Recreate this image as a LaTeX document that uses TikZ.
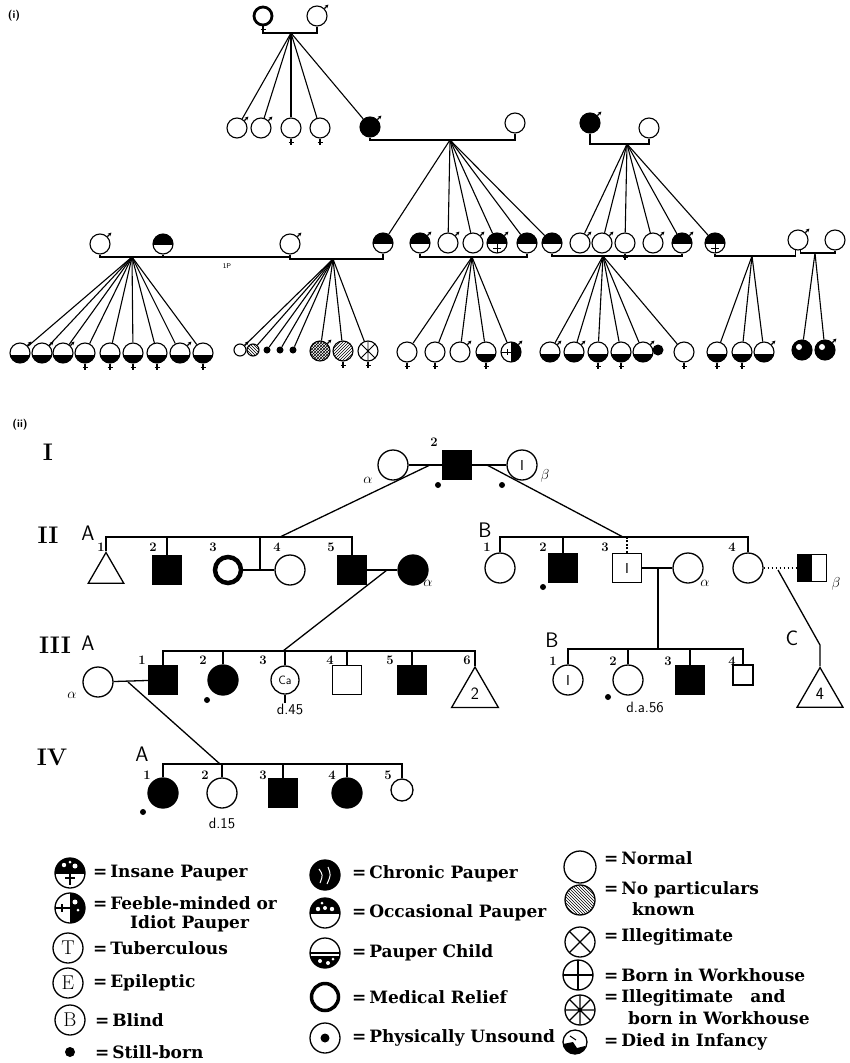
\documentclass[tikz,border=0pt]{standalone}
\usepackage{fontspec}
\usetikzlibrary{arrows.meta,shapes.geometric,patterns,calc}
\newfontfamily\legfont{DejaVu Serif}
\begin{document}
\begin{tikzpicture}[x=1pt,y=-1pt,
  ln/.style={line width=1.1pt},
  pl/.style={line width=1.3pt},
  pc/.style={circle,draw,line width=1.1pt,minimum size=20pt,inner sep=0pt},
  thk/.style={pc,line width=2.8pt,minimum size=18pt},
  chr/.style={pc,fill=black},
  occ/.style={pc,path picture={\fill ([yshift=-1pt]path picture bounding box.west) rectangle (path picture bounding box.north east);}},
  chd/.style={pc,path picture={\fill ([yshift=-2pt]path picture bounding box.west) rectangle (path picture bounding box.south east);}},
  ins/.style={pc,path picture={\fill ([yshift=-1pt]path picture bounding box.west) rectangle (path picture bounding box.north east);
     \draw[line width=0.9pt] ($(path picture bounding box.center)+(-4,5)$) -- ++(8,0) ($(path picture bounding box.center)+(0,1)$) -- ++(0,9);}},
  fbl/.style={pc,path picture={\fill (path picture bounding box.north) rectangle (path picture bounding box.south east);
     \draw[line width=0.9pt] (path picture bounding box.west) -- (path picture bounding box.center) ($(path picture bounding box.center)+(-4,-3)$) -- ++(0,6);}},
  spot/.style={pc,fill=black,path picture={\fill[white] ($(path picture bounding box.center)+(-3,-3)$) circle[radius=3];}},
  sb/.style={circle,fill=black,minimum size=7pt,inner sep=0pt},
  pf/.style={circle,draw,line width=1.3pt,minimum size=30pt,inner sep=0pt,font=\sffamily\Large},
  pm/.style={rectangle,draw,line width=1.3pt,minimum size=29pt,inner sep=0pt,font=\sffamily\Large},
  tri/.style={regular polygon,regular polygon sides=3,draw,line width=1.3pt,inner sep=0pt,font=\sffamily\LARGE},
  num/.style={font=\bfseries\fontsize{13}{13}\selectfont,inner sep=0pt},
  rom/.style={font=\fontsize{24}{24}\selectfont\bfseries,inner sep=0pt},
  grp/.style={font=\sffamily\fontsize{21}{21}\selectfont,inner sep=0pt},
  gk/.style={font=\Large,inner sep=0pt},
  dt/.style={circle,fill=black,minimum size=6pt,inner sep=0pt},
  dd/.style={font=\sffamily\fontsize{15}{15}\selectfont,inner sep=0pt},
  lg/.style={circle,draw,line width=1.3pt,minimum size=30pt,inner sep=0pt,font=\fontsize{20}{20}\selectfont},
  lt/.style={anchor=west,inner sep=0pt,font=\legfont\bfseries\fontsize{17}{17}\selectfont},
  mk/.style={line width=1.1pt,-{Stealth[length=3.5pt,width=3.5pt]}},
  tl/.style={font=\sffamily\bfseries\fontsize{11}{11}\selectfont,inner sep=0pt},
]
\fill[white] (0,0) rectangle (849,1063);
\useasboundingbox (0,0) rectangle (849,1063);

% ================= (i) =================
\node[tl] (lab1) at (14,16) {(i)};
\node[thk] (t1) at (263,16) {};
\node[pc] (t2) at (317,16) {};
\coordinate (j1) at (291,33);
\draw[ln] (t1.south) |- (j1) -| (t2.south);
\node[pc] (c1) at (237,128) {};
\node[pc] (c2) at (261,128) {};
\node[pc] (c3) at (291,128) {};
\node[pc] (c4) at (320,128) {};
\node[chr] (c5) at (370,127) {};
\foreach \c in {c1,c2,c3,c4,c5} \draw[ln] (j1) -- (\c);
\node[pc] (s1) at (515,123) {};
\coordinate (j2) at (450,140);
\draw[ln] (c5.south) |- (j2) -| (s1.south);
\node[chr] (p1) at (590,123) {};
\node[pc] (p2) at (649,128) {};
\coordinate (j3) at (627,144);
\draw[ln] (p1.south) |- (j3) -| (p2.south);

% row 3
\node[pc]  (r1) at (100,244) {};
\node[occ] (r2) at (163,244) {};
\node[pc]  (r3) at (290,244) {};
\node[occ] (r4) at (383,243) {};
\node[occ] (r5) at (420,243) {};
\node[pc]  (r6) at (448,243) {};
\node[pc]  (r7) at (473,243) {};
\node[ins] (r8) at (497,243) {};
\node[occ] (r9) at (527,243) {};
\node[occ] (r10) at (552,243) {};
\node[pc]  (r11) at (580,243) {};
\node[pc]  (r12) at (602,243) {};
\node[pc]  (r13) at (625,243) {};
\node[pc]  (r14) at (653,243) {};
\node[occ] (r15) at (682,243) {};
\node[ins] (r16) at (715,243) {};
\node[pc]  (r17) at (798,240) {};
\node[pc]  (r18) at (835,240) {};
\foreach \c in {r4,r6,r7,r8,r9,r10} \draw[ln] (j2) -- (\c);
\foreach \i in {11,...,16} \draw[ln] (j3) -- (r\i);

\coordinate (j4) at (132,257);
\coordinate (q1) at (227,257);
\coordinate (j5) at (333,259);
\coordinate (j6) at (472,257);
\coordinate (j7) at (603,256);
\coordinate (j8) at (752,256);
\coordinate (j9) at (815,253);
\draw[ln] (r1.south) |- (j4) -| (r2.south);
\draw[ln] (r2.south) |- (q1) -| (r3.south);
\node[font=\sffamily\scriptsize,inner sep=0pt] (lp) at (227,266) {1P};
\draw[ln] (r3.south) |- (j5) -| (r4.south);
\draw[ln] (r5.south) |- (j6) -| (r9.south);
\draw[ln] (r10.south) |- (j7) -| (r15.south);
\draw[ln] (r16.south) |- (j8) -| (r17.255);
\draw[ln] (r17.285) |- (j9) -| (r18.south);

% row 4
\foreach \x [count=\i] in {20,42,63,85,110,133,157,180,203}
  \node[chd] (g\i) at (\x,353) {};
\foreach \i in {1,...,9} \draw[ln] (j4) -- (g\i);

\node[pc,minimum size=12pt] (h1) at (240,350) {};
\node[pc,minimum size=12pt,pattern=north west lines] (h2) at (253,350) {};
\node[sb] (h3) at (267,350) {};
\node[sb] (h4) at (280,350) {};
\node[sb] (h5) at (293,350) {};
\node[pc,pattern=crosshatch] (h6) at (320,351) {};
\node[pc,pattern=north east lines] (h7) at (343,351) {};
\node[pc,path picture={\draw[line width=0.8pt] (path picture bounding box.north west)--(path picture bounding box.south east) (path picture bounding box.north east)--(path picture bounding box.south west) (path picture bounding box.north)--(path picture bounding box.south);}] (h8) at (368,351) {};
\foreach \i in {1,...,8} \draw[ln] (j5) -- (h\i);

\node[pc]  (k1) at (407,352) {};
\node[pc]  (k2) at (435,352) {};
\node[pc]  (k3) at (460,352) {};
\node[chd] (k4) at (486,352) {};
\node[fbl] (k5) at (511,352) {};
\foreach \i in {1,...,5} \draw[ln] (j6) -- (k\i);

\node[chd] (m1) at (550,352) {};
\node[chd] (m2) at (574,352) {};
\node[chd] (m3) at (598,352) {};
\node[chd] (m4) at (621,352) {};
\node[chd] (m5) at (643,352) {};
\node[circle,fill=black,minimum size=11pt,inner sep=0pt] (m6) at (658,350) {};
\node[pc]  (m7) at (684,352) {};
\foreach \i in {1,2,3,4,5,7} \draw[ln] (j7) -- (m\i);

\node[chd] (n1) at (717,352) {};
\node[chd] (n2) at (742,352) {};
\node[chd] (n3) at (764,352) {};
\foreach \i in {1,2,3} \draw[ln] (j8) -- (n\i);
\node[spot] (o1) at (802,350) {};
\node[spot] (o2) at (825,350) {};
\foreach \i in {1,2} \draw[ln] (j9) -- (o\i);

% sex markers
\foreach \n in {t2,c1,c2,c5,p1,r1,r3,r5,r6,r7,r8,r11,r12,r14,r15,r17,g1,g2,g3,g8,h1,h6,k3,k5,m1,m2,m5,n3,o2}
  \draw[mk] (\n.north east) -- ++(4,-4);
\foreach \n in {t1,c3,c4,r13,g4,g5,g6,g7,g9,h7,h8,k1,k2,k4,m3,m4,m7,n1,n2}
  \draw[ln] (\n.south) -- ++(0,6) ++(-2.5,-2.5) -- ++(5,0);

% ================= (ii) =================
\node[tl] (lab2) at (20,425) {(ii)};
\node[rom] (gI) at (48,452) {I};
\node[rom] (gII) at (48,535) {II};
\node[rom] (gIII) at (55,645) {III};
\node[rom] (gIV) at (52,757) {IV};

% generation I
\node[pf] (Ia) at (393,465) {};
\node[pm,fill=black] (I2) at (457,465) {};
\node[pf] (Ib) at (522,465) {I};
\node[gk] (al1) at (368,480) {$\alpha$};
\node[gk] (be1) at (545,476) {$\beta$};
\node[num] (nI2) at (434,442) {2};
\node[dt] (dI1) at (438,485) {};
\node[dt] (dI2) at (502,485) {};
\draw[pl] (Ia) -- (I2);
\draw[pl] (I2) -- (Ib);
\coordinate (dA) at (430,465);
\coordinate (dA2) at (280,537);
\coordinate (dB) at (487,465);
\coordinate (dB2) at (623,537);
\draw[pl] (dA) -- (dA2);
\draw[pl] (dB) -- (dB2);

% generation II A
\node[grp] (gA2) at (88,533) {A};
\coordinate (IIA) at (0,537);
\node[tri,minimum size=41pt] (A1) at (106,573) {};
\node[pm,fill=black] (A2) at (167,570) {};
\node[pf,line width=4.5pt,minimum size=26pt] (A3) at (228,570) {};
\node[pf] (A4) at (290,570) {};
\node[pm,fill=black] (A5) at (352,570) {};
\node[pf,fill=black] (A6) at (413,570) {};
\node[gk] (al2) at (428,583) {$\alpha$};
\foreach \t/\x in {1/101,2/153,3/213,4/277,5/331} \node[num] at (\x,547) {\t};
\draw[pl] (A1.north) -- (A1.north |- IIA) -- (A5.north |- IIA) -- (A5.north);
\draw[pl] (A2.north) -- (A2.north |- IIA);
\draw[pl] (A3) -- (A4);
\coordinate (m34) at (260,570);
\draw[pl] (m34) -- (m34 |- IIA);
\draw[pl] (A5) -- (A6);
\coordinate (m56) at (387,570);
\coordinate (m56b) at (283,651);
\draw[pl] (m56) -- (m56b);

% generation II B
\node[grp] (gB2) at (485,530) {B};
\coordinate (IIB) at (0,537);
\node[pf] (B1) at (500,568) {};
\node[pm,fill=black] (B2) at (563,568) {};
\node[pm] (B3) at (627,568) {I};
\node[pf] (Ba) at (688,568) {};
\node[pf] (B4) at (748,568) {};
\node[pm,minimum width=29pt,minimum height=27pt,path picture={\fill (path picture bounding box.south west) rectangle (path picture bounding box.north);}] (B5) at (812,568) {};
\node[gk] (al3) at (705,583) {$\alpha$};
\node[gk] (be3) at (836,584) {$\beta$};
\foreach \t/\x in {1/487,2/543,3/605,4/732} \node[num] at (\x,547) {\t};
\node[dt] (dB2d) at (543,587) {};
\draw[pl] (B1.north) -- (B1.north |- IIB) -- (B4.north |- IIB) -- (B4.north);
\draw[pl] (B2.north) -- (B2.north |- IIB);
\draw[pl,dash pattern=on 2pt off 1.5pt] (B3.north) -- (B3.north |- IIB);
\draw[pl] (B3) -- (Ba);
\coordinate (mB) at (658,568);
\coordinate (IIIB) at (0,649);
\draw[pl] (mB) -- (mB |- IIIB);
\draw[line width=1.6pt,dash pattern=on 1.5pt off 2.5pt] (B4) -- (B5);
\node[grp] (gC) at (792,638) {C};
\node[tri,minimum size=53pt] (C4) at (820,694) {4};
\coordinate (mC) at (778,570);
\coordinate (kC) at (820,645);
\draw[pl] (mC) -- (kC) -- (C4.north);

% generation III A
\node[grp] (gA3) at (88,643) {A};
\coordinate (IIIA) at (0,651);
\node[pf] (Ea) at (98,682) {};
\node[gk] (al4) at (72,695) {$\alpha$};
\node[pm,fill=black] (E1) at (163,680) {};
\node[pf,fill=black] (E2) at (223,680) {};
\node[pf,minimum size=28pt,font=\sffamily\large] (E3) at (285,680) {Ca};
\node[pm] (E4) at (347,680) {};
\node[pm,fill=black] (E5) at (412,680) {};
\node[tri,minimum size=54pt] (E6) at (475,694) {2};
\foreach \t/\x in {1/142,2/203,3/263,4/330,5/390,6/467} \node[num] at (\x,660) {\t};
\draw[pl] (E1.north) -- (E1.north |- IIIA) -- (E6.north |- IIIA) -- (E6.north);
\foreach \n in {E2,E3,E4,E5} \draw[pl] (\n.north) -- (\n.north |- IIIA);
\draw[pl] (Ea) -- (E1);
\coordinate (mE) at (128,682);
\coordinate (mE2) at (220,764);
\draw[pl] (mE) -- (mE2);
\node[dt] (dE2) at (207,700) {};
\node[dd] (dd45) at (290,709) {d.45};
\draw[pl] (E3.south) -- (E3.south |- dd45.north);

% generation III B
\node[grp] (gB3) at (552,640) {B};
\node[pf] (F1) at (568,680) {I};
\node[pf] (F2) at (628,680) {};
\node[pm,fill=black] (F3) at (690,680) {};
\node[pm,minimum size=20pt] (F4) at (743,675) {};
\foreach \t/\x in {1/553,2/613,3/668,4/732} \node[num] at (\x,661) {\t};
\draw[pl] (F1.north) -- (F1.north |- IIIB) -- (F4.north |- IIIB) -- (F4.north);
\foreach \n in {F2,F3} \draw[pl] (\n.north) -- (\n.north |- IIIB);
\node[dt] (dF2) at (608,697) {};
\node[dd] (dd56) at (645,707) {d.a.56};

% generation IV A
\node[grp] (gA4) at (142,754) {A};
\coordinate (IVA) at (0,764);
\node[pf,fill=black] (G1) at (163,793) {};
\node[pf] (G2) at (222,793) {};
\node[pm,fill=black] (G3) at (283,793) {};
\node[pf,fill=black] (G4) at (347,793) {};
\node[pf,minimum size=22pt] (G5) at (402,790) {};
\foreach \t/\x in {1/147,2/205,3/263,4/332,5/388} \node[num] at (\x,775) {\t};
\draw[pl] (G1.north) -- (G1.north |- IVA) -- (G5.north |- IVA) -- (G5.north);
\foreach \n in {G2,G3,G4} \draw[pl] (\n.north) -- (\n.north |- IVA);
\node[dt] (dG1) at (143,812) {};
\node[dd] (dd15) at (222,823) {d.15};

% ================= legend =================
\node[lg,path picture={\fill (path picture bounding box.north west) rectangle ([yshift=-1pt]path picture bounding box.east);
  \fill[white] ($(path picture bounding box.center)+(-6,-8)$) circle[radius=2.2] ($(path picture bounding box.center)+(5,-7)$) circle[radius=2.5] ($(path picture bounding box.center)+(0,-11)$) circle[radius=1.5];
  \draw[line width=1.2pt] ($(path picture bounding box.center)+(-5,5)$) -- ++(10,0) (path picture bounding box.center) -- ++(0,12);}] (L1) at (70,873) {};
\node[lg,path picture={\fill (path picture bounding box.north) rectangle (path picture bounding box.south east);
  \fill[white] ($(path picture bounding box.center)+(5,-6)$) circle[radius=2.5] ($(path picture bounding box.center)+(8,2)$) circle[radius=1.5];
  \draw[line width=1.2pt] (path picture bounding box.west) -- (path picture bounding box.center) ($(path picture bounding box.center)+(-8,-4)$) -- ++(0,8);}] (L2) at (70,908) {};
\node[lg] (L3) at (68,948) {T};
\node[lg] (L4) at (68,983) {E};
\node[lg] (L5) at (70,1020) {B};
\node[circle,fill=black,minimum size=10pt,inner sep=0pt] (L6) at (70,1052) {};

\node[lg,fill=black,path picture={\draw[white,line width=1pt] ($(path picture bounding box.center)+(-6,-6)$) .. controls ($(path picture bounding box.center)+(-2,0)$) .. ($(path picture bounding box.center)+(-5,8)$) ($(path picture bounding box.center)+(3,-8)$) .. controls ($(path picture bounding box.center)+(6,0)$) .. ($(path picture bounding box.center)+(2,9)$);}] (L7) at (325,875) {};
\node[lg,path picture={\fill (path picture bounding box.north west) rectangle ([yshift=-1pt]path picture bounding box.east);
  \fill[white] ($(path picture bounding box.center)+(-7,-4)$) circle[radius=2.2] ($(path picture bounding box.center)+(0,-5)$) circle[radius=2] ($(path picture bounding box.center)+(7,-4)$) circle[radius=2.2] ($(path picture bounding box.center)+(-3,-10)$) circle[radius=1.5];}] (L8) at (325,913) {};
\node[lg,path picture={\fill ([yshift=-3pt]path picture bounding box.west) rectangle (path picture bounding box.south east);
  \draw[line width=1.2pt] (path picture bounding box.west) -- (path picture bounding box.east);
  \fill[white] ($(path picture bounding box.center)+(-5,8)$) circle[radius=2] ($(path picture bounding box.center)+(3,10)$) circle[radius=2] ($(path picture bounding box.center)+(8,6)$) circle[radius=1.5];}] (L9) at (325,953) {};
\node[lg,line width=3.5pt,minimum size=27pt] (L10) at (325,997) {};
\node[lg,path picture={\fill (path picture bounding box.center) circle[radius=4.5];}] (L11) at (325,1038) {};

\node[lg,minimum size=32pt] (L12) at (580,867) {};
\node[lg,pattern=north west lines] (L13) at (580,900) {};
\node[lg,path picture={\draw[line width=1.2pt] (path picture bounding box.north west) -- (path picture bounding box.south east) (path picture bounding box.north east) -- (path picture bounding box.south west);}] (L14) at (580,942) {};
\node[lg,path picture={\draw[line width=1.2pt] (path picture bounding box.west) -- (path picture bounding box.east) (path picture bounding box.north) -- (path picture bounding box.south);}] (L15) at (578,975) {};
\node[lg,path picture={\draw[line width=1.1pt] (path picture bounding box.west) -- (path picture bounding box.east) (path picture bounding box.north) -- (path picture bounding box.south) (path picture bounding box.north west) -- (path picture bounding box.south east) (path picture bounding box.north east) -- (path picture bounding box.south west);}] (L16) at (580,1010) {};
\node[lg,minimum size=24pt,path picture={\fill ($(path picture bounding box.center)+(-12,2)$) -- ($(path picture bounding box.center)+(-2,0)$) -- ($(path picture bounding box.center)+(2,6)$) -- ($(path picture bounding box.center)+(10,4)$) -- (path picture bounding box.south east) -- (path picture bounding box.south west) -- cycle;
  \draw[line width=1pt] ($(path picture bounding box.center)+(-5,-6)$) -- ($(path picture bounding box.center)+(1,-2)$);}] (L17) at (575,1042) {};

\node[lt] (T1) at (93,873) {=\,Insane Pauper};
\node[lt] (T2) at (93,903) {=\,Feeble-minded or};
\node[lt] (T2b) at (130,924) {Idiot Pauper};
\node[lt] (T3) at (93,948) {=\,Tuberculous};
\node[lt] (T4) at (93,983) {=\,Epileptic};
\node[lt] (T5) at (95,1020) {=\,Blind};
\node[lt] (T6) at (95,1052) {=\,Still-born};
\node[lt] (T7) at (352,874) {=\,Chronic Pauper};
\node[lt] (T8) at (352,913) {=\,Occasional Pauper};
\node[lt] (T9) at (352,953) {=\,Pauper Child};
\node[lt] (T10) at (352,997) {=\,Medical Relief};
\node[lt] (T11) at (352,1038) {=\,Physically Unsound};
\node[lt] (T12) at (604,858) {=\,Normal};
\node[lt] (T13) at (604,890) {=\,No particulars};
\node[lt] (T13b) at (632,909) {known};
\node[lt] (T14) at (604,937) {=\,Illegitimate};
\node[lt] (T15) at (604,975) {=\,Born in Workhouse};
\node[lt] (T16) at (604,998) {=\,Illegitimate\quad and};
\node[lt] (T16b) at (628,1018) {born in Workhouse};
\node[lt] (T17) at (604,1042) {=\,Died in Infancy};
\end{tikzpicture}
\end{document}
